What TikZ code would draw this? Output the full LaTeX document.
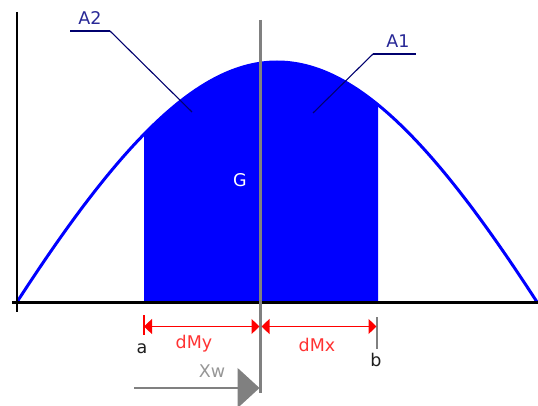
\documentclass[tikz,border=0pt]{standalone}
\usepackage{fontspec}
\setmainfont{DejaVu Sans}
\usetikzlibrary{arrows.meta}
\definecolor{fillblue}{RGB}{0,0,255}
\definecolor{navyline}{RGB}{0,0,110}
\definecolor{navytext}{RGB}{40,40,150}
\definecolor{axisgray}{RGB}{128,128,128}
\definecolor{xwgray}{RGB}{150,150,150}
\definecolor{dimred}{RGB}{255,0,0}
\definecolor{labred}{RGB}{255,50,50}
\definecolor{labdark}{RGB}{30,30,30}
\begin{document}
\begin{tikzpicture}[x=1pt,y=-1pt,
  lbl/.style={font=\fontsize{17.5}{17.5}\selectfont, inner sep=0pt, anchor=base},
  leaderh/.style={navyline, line width=2.4pt},
  leaderd/.style={navyline, line width=1.1pt},
  dimline/.style={dimred, line width=1.2pt, {Triangle[length=8pt,width=15pt]}-{Triangle[length=8pt,width=15pt]}},
  tick/.style={line width=1.5pt},
  curvepath/.style={blue, line width=3pt}]
\useasboundingbox (0,0) rectangle (538,406);
% filled region
\begin{scope}
  \clip (144,0) rectangle (378,302);
  \fill[fillblue] (17,302) .. controls (224,-18) and (330,-18) .. (537,302) -- cycle;
\end{scope}
% curve
\draw[curvepath] (17,302) .. controls (224,-18) and (330,-18) .. (537,302);
% axes
\coordinate (yTop) at (17,12);
\coordinate (yBot) at (17,312);
\coordinate (xLeft) at (12,302);
\coordinate (xRight) at (538,302);
\draw[black, line width=2.4pt] (yTop) -- (yBot);
\draw[black, line width=3pt] (xLeft) -- (xRight);
% centroid vertical line
\coordinate (gTop) at (260.5,20);
\coordinate (gBot) at (260.5,393);
\draw[axisgray, line width=2.2pt] (gTop) -- (gBot);
% labels A2 and A1 with leaders
\node[lbl, text=navytext] (A2) at (90,25) {A2};
\coordinate (a2h1) at (70,31);
\coordinate (a2h2) at (110,31);
\coordinate (a2pt) at (192,112);
\draw[leaderh] (a2h1) -- (a2h2);
\draw[leaderd] (a2h2) -- (a2pt);
\node[lbl, text=navytext] (A1) at (398,48) {A1};
\coordinate (a1h1) at (373,54);
\coordinate (a1h2) at (416,54);
\coordinate (a1pt) at (313,113);
\draw[leaderh] (a1h1) -- (a1h2);
\draw[leaderd] (a1h1) -- (a1pt);
% G
\node[lbl, text=white] (G) at (240,187) {G};
% dimension lines
\coordinate (aTop) at (144,315);
\coordinate (aBot) at (144,335);
\draw[dimred, tick] (aTop) -- (aBot);
\coordinate (bTop) at (377,317);
\coordinate (bBot) at (377,349);
\draw[axisgray, tick] (bTop) -- (bBot);
\coordinate (dA) at (144,326.5);
\coordinate (dG1) at (259.5,326.5);
\coordinate (dG2) at (261.5,326.5);
\coordinate (dB) at (376.5,326.5);
\draw[dimline] (dA) -- (dG1);
\draw[dimline] (dG2) -- (dB);
\node[lbl, text=labred] (dMy) at (194,348) {dMy};
\node[lbl, text=labred] (dMx) at (317,351) {dMx};
\node[lbl, text=labdark] (la) at (142,353) {a};
\node[lbl, text=labdark] (lb) at (376,366) {b};
% Xw arrow
\coordinate (xwS) at (134,388);
\coordinate (xwE) at (259.5,388);
\draw[axisgray, line width=1.4pt, -{Triangle[length=22pt,width=40pt]}] (xwS) -- (xwE);
\node[lbl, text=xwgray] (Xw) at (212,377) {Xw};
\end{tikzpicture}
\end{document}
